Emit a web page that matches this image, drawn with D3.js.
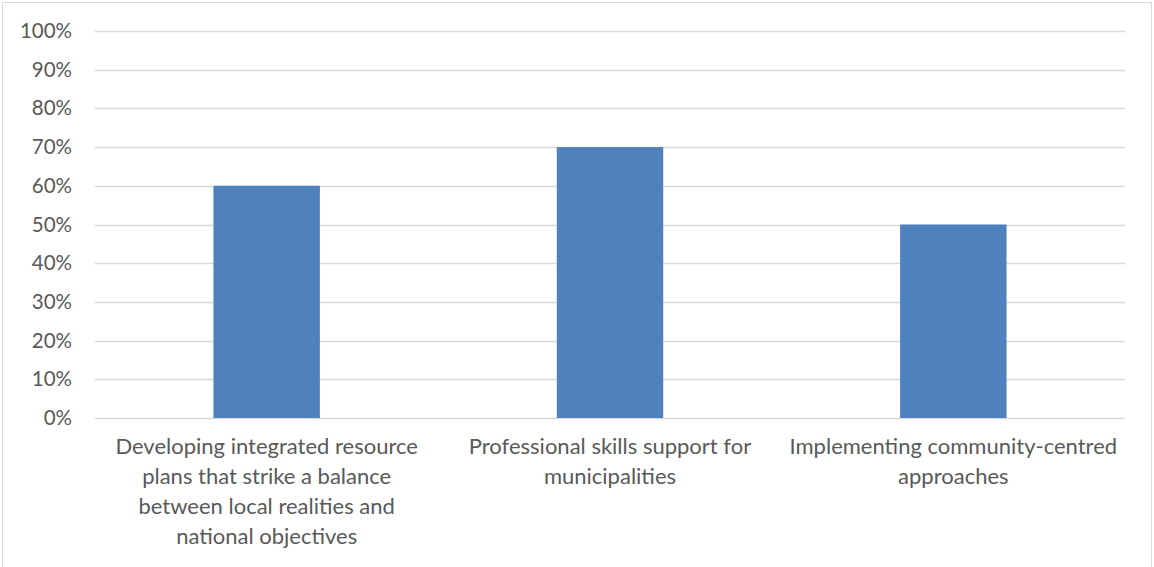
<!DOCTYPE html>
<html>
<head>
<meta charset="utf-8">
<script src="https://cdn.jsdelivr.net/npm/d3@7"></script>
<style>
  html, body { margin: 0; padding: 0; background: #fff; }
  svg { display: block; }
</style>
</head>
<body>
<svg id="chart" width="1154" height="567"></svg>
<script>
// Share of respondents per support area
const categories = [
  ["Developing integrated resource", "plans that strike a balance", "between local realities and", "national objectives"],
  ["Professional skills support for", "municipalities"],
  ["Implementing community-centred", "approaches"]
];
const values = [0.60, 0.70, 0.50];
const tickValues = [0, 0.1, 0.2, 0.3, 0.4, 0.5, 0.6, 0.7, 0.8, 0.9, 1.0];

const W = 1154, H = 567;
const margin = { left: 95, right: 29, top: 31, bottom: 149 };
const FONT = "Lato, 'Open Sans', sans-serif";

const svg = d3.select("#chart");

// outer chart frame
svg.append("rect")
  .attr("x", 2.5).attr("y", 2.5)
  .attr("width", W - 5).attr("height", H)
  .attr("fill", "#fff").attr("stroke", "#d9d9d9").attr("stroke-width", 1);

const x = d3.scaleBand()
  .domain(d3.range(categories.length))
  .range([margin.left, W - margin.right])
  .paddingInner(0.69).paddingOuter(0.345);

const y = d3.scaleLinear()
  .domain([0, 1])
  .range([H - margin.bottom, margin.top]);

// horizontal gridlines
svg.append("g")
  .selectAll("line")
  .data(tickValues)
  .join("line")
  .attr("x1", margin.left).attr("x2", W - margin.right)
  .attr("y1", d => Math.round(y(d)) + 0.5).attr("y2", d => Math.round(y(d)) + 0.5)
  .attr("stroke", "#d9d9d9").attr("stroke-width", 1.5);

// y-axis labels
const yAxis = d3.axisLeft(y)
  .tickValues(tickValues)
  .tickFormat(d3.format(".0%"))
  .tickSize(0).tickPadding(0);

svg.append("g")
  .attr("transform", `translate(${margin.left - 23},0)`)
  .call(yAxis)
  .call(g => g.select(".domain").remove())
  .call(g => g.selectAll("text")
    .attr("fill", "#595959")
    .style("font-family", FONT)
    .style("font-size", "20.5px"));

// bars
svg.append("g")
  .selectAll("rect")
  .data(values)
  .join("rect")
  .attr("x", (d, i) => x(i))
  .attr("width", x.bandwidth())
  .attr("y", d => y(d))
  .attr("height", d => y(0) - y(d))
  .attr("fill", "#4f81bd");

// category labels, wrapped onto several lines
const labels = svg.append("g")
  .selectAll("text")
  .data(categories)
  .join("text")
  .attr("x", (d, i) => x(i) + x.bandwidth() / 2)
  .attr("y", y(0) + 36)
  .attr("text-anchor", "middle")
  .attr("fill", "#595959")
  .style("font-family", FONT)
  .style("font-size", "22px");

labels.selectAll("tspan")
  .data(d => d)
  .join("tspan")
  .attr("x", function () { return d3.select(this.parentNode).attr("x"); })
  .attr("dy", (d, i) => i === 0 ? 0 : 30)
  .text(d => d);
</script>
</body>
</html>
